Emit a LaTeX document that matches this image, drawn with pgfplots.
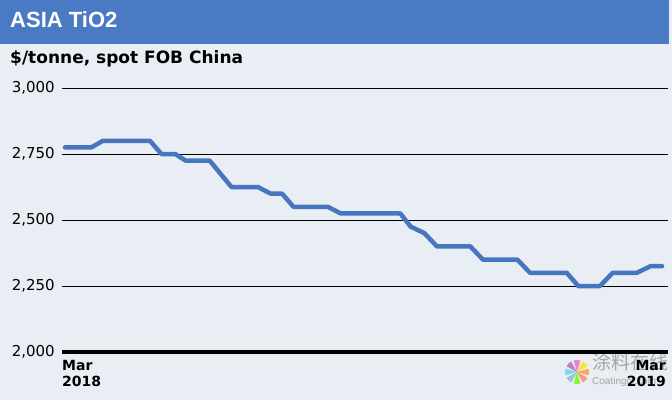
\documentclass[border=0pt]{standalone}
\usepackage{pgfplots}
\pgfplotsset{compat=1.18}
\usepackage{fontspec}
\setmainfont{Liberation Sans}
\newfontfamily\dejavu{DejaVu Sans}
\newfontfamily\cjk{Noto Sans CJK SC}
\definecolor{bg}{HTML}{E9EDF4}
\definecolor{titlebar}{HTML}{4A7AC4}
\definecolor{series}{HTML}{4676C0}
\begin{document}
\begin{tikzpicture}
\fill[bg] (0pt,0pt) rectangle (672pt,400pt);
\fill[titlebar] (0pt,356pt) rectangle (669pt,400pt);
\node[anchor=west,text=white,inner sep=0pt,font=\bfseries\fontsize{22}{22}\selectfont] at (10pt,380pt) {ASIA TiO2};
\node[anchor=west,inner sep=0pt,font=\dejavu\bfseries\fontsize{17}{17}\selectfont] at (10pt,341pt) {\$/tonne, spot FOB China};
% watermark
\foreach \a/\c in {0/orange!80,45/yellow!90!orange,90/magenta!60,135/violet!60,180/cyan!60,225/teal!50,270/green!60!yellow,315/red!50} {
  \fill[\c,opacity=0.8] (577pt,28pt) -- ++(\a-16:12pt) arc[start angle=\a-16,end angle=\a+16,radius=12pt] -- cycle;
}
\node[anchor=west,inner sep=0pt,text=gray!70,font=\cjk\fontsize{19}{19}\selectfont] at (592pt,38pt) {涂料在线};
\node[anchor=west,inner sep=0pt,text=gray!70,font=\fontsize{10}{10}\selectfont] at (592pt,18pt) {Coatingol.com};
\begin{axis}[
  at={(62pt,48pt)}, anchor=south west, scale only axis,
  width=606pt, height=264pt,
  xmin=-0.26, xmax=52.52, ymin=2000, ymax=3000,
  axis line style={draw=none},
  xtick=\empty,
  ytick={2000,2250,2500,2750,3000},
  major tick length=0pt,
  ymajorgrids, grid style={black, line width=1pt},
  /pgf/number format/assume math mode=true,
  /pgf/number format/1000 sep={,},
  yticklabel style={font=\dejavu\fontsize{15}{15}\selectfont, inner sep=0pt, xshift=-7pt},
  clip=false,
]
\draw[black, line width=3.5pt] (rel axis cs:0,0) -- (rel axis cs:1,0);
\addplot[series, line width=4.5pt, line join=round, line cap=round] coordinates {
(0,2775) (2.3,2775) (3.3,2800) (7.4,2800) (8.4,2750) (9.6,2750) (10.5,2725) (12.6,2725)
(14.5,2625) (16.8,2625) (17.9,2600) (18.9,2600) (19.9,2550) (22.9,2550) (24,2525) (29.2,2525)
(30.1,2475) (31.3,2450) (32.4,2400) (35.3,2400) (36.4,2350) (39.4,2350) (40.5,2300) (43.7,2300)
(44.7,2250) (46.6,2250) (47.7,2300) (49.8,2300) (51,2325) (52,2325)
};
\end{axis}
\node[anchor=north west,align=left,inner sep=0pt,font=\dejavu\bfseries\fontsize{14}{16}\selectfont] at (62pt,40pt) {Mar\\2018};
\node[anchor=north east,align=right,inner sep=0pt,font=\dejavu\bfseries\fontsize{14}{16}\selectfont] at (666pt,40pt) {Mar\\2019};
\end{tikzpicture}
\end{document}
